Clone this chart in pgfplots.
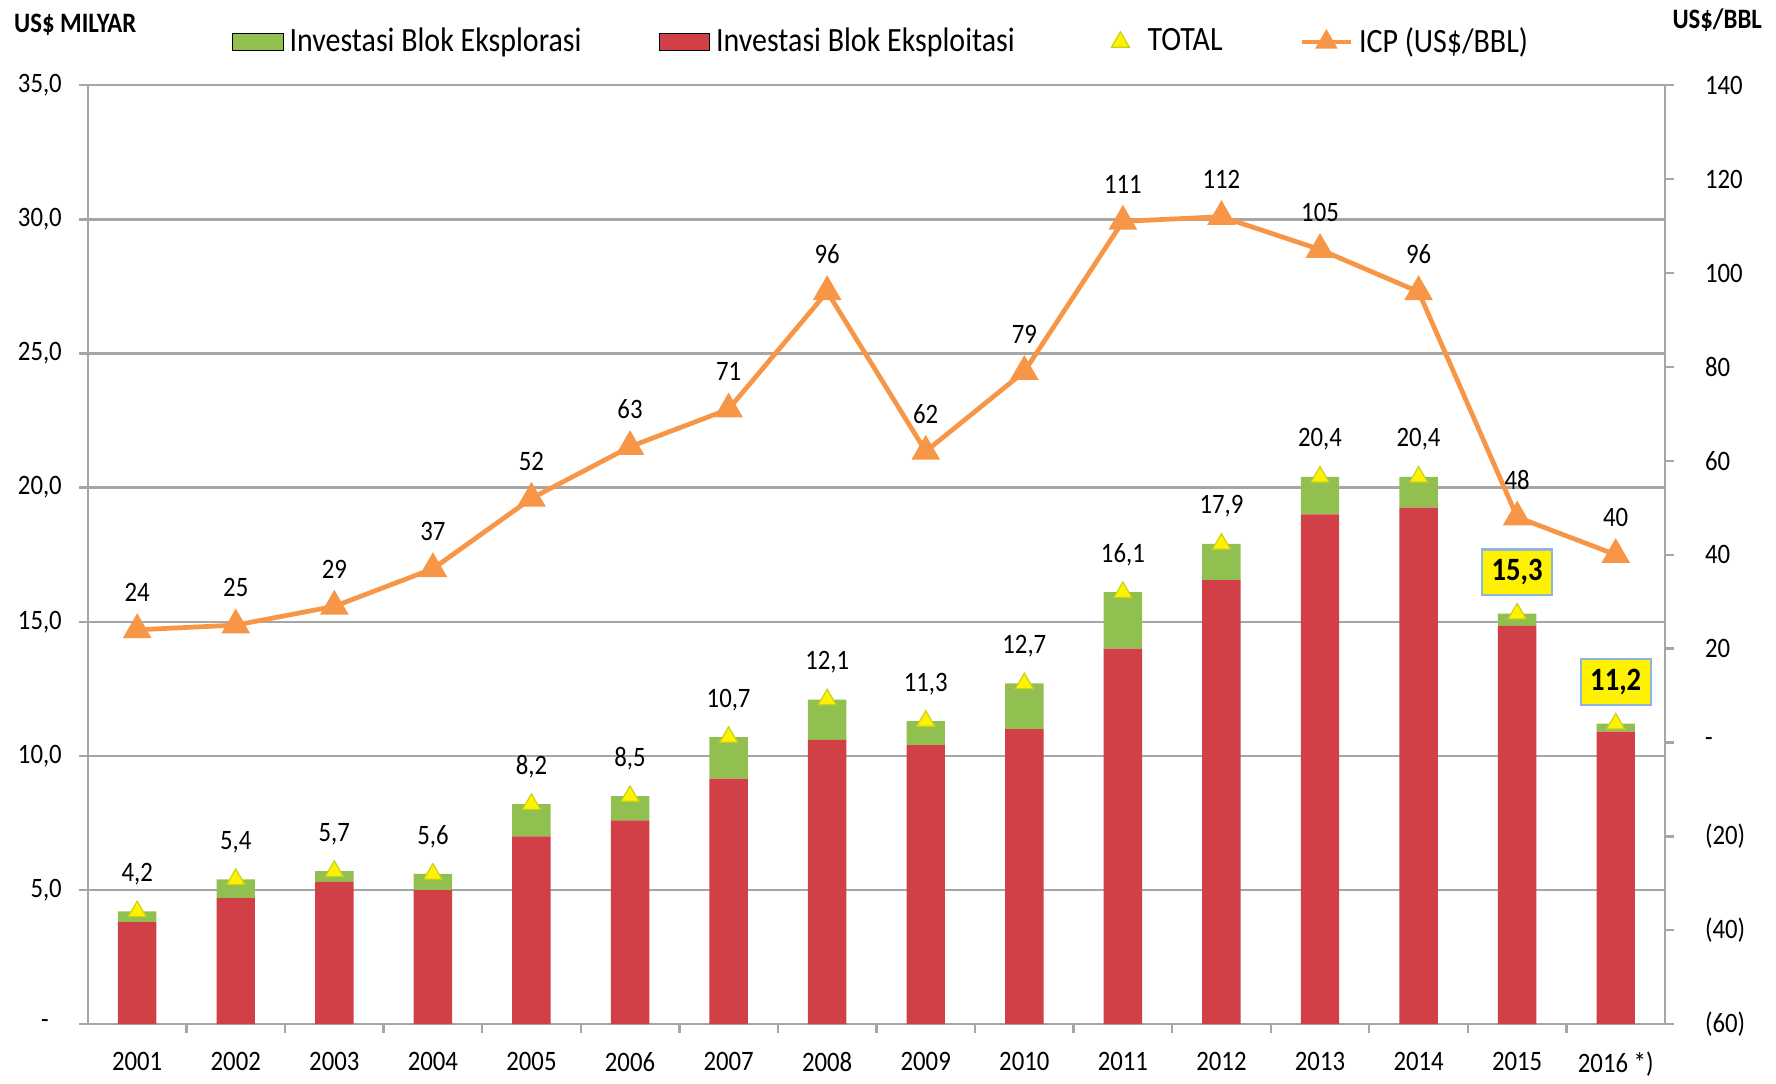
\documentclass[border=0pt]{standalone}
\usepackage{pgfplots}
\pgfplotsset{compat=1.18}
\usepackage{pgfplotstable}
\usepackage{fontspec}
\setmainfont{Carlito}[FakeStretch=0.88]
\definecolor{exred}{HTML}{D13F47}
\definecolor{exgreen}{HTML}{92C050}
\definecolor{icporange}{HTML}{F79646}
\definecolor{gridgray}{HTML}{A6A6A6}
\definecolor{boxblue}{HTML}{8DB4E2}
\definecolor{triedge}{HTML}{C9D21A}

\pgfplotstableread{
x red green total lab
0 3.8 0.4 4.2 4,2
1 4.7 0.7 5.4 5,4
2 5.3 0.4 5.7 5,7
3 5.0 0.6 5.6 5,6
4 7.0 1.2 8.2 8,2
5 7.6 0.9 8.5 8,5
6 9.15 1.55 10.7 10,7
7 10.6 1.5 12.1 12,1
8 10.4 0.9 11.3 11,3
9 11.0 1.7 12.7 12,7
10 14.0 2.1 16.1 16,1
11 16.55 1.35 17.9 17,9
12 19.0 1.4 20.4 20,4
13 19.25 1.15 20.4 20,4
14 14.85 0.45 15.3 15,3
15 10.9 0.3 11.2 11,2
}\inv

\pgfplotstableread{
x icp
0 24
1 25
2 29
3 37
4 52
5 63
6 71
7 96
8 62
9 79
10 111
11 112
12 105
13 96
14 48
15 40
}\icp

\pgfplotsset{
  base/.style={
    width=532.8pt, height=317.2pt, scale only axis,
    xmin=-0.5, xmax=15.5,
    at={(0pt,0pt)}, anchor=south west,
    font=\fontsize{9.5}{11}\selectfont,
    /pgf/number format/assume math mode=true,
  },
  totlegend/.style={legend image code/.code={\path (0pt,0pt) (16.5pt,0pt); \draw[##1] plot coordinates {(9.5pt,0pt)};}},
  icplegend/.style={legend image code/.code={\draw[icporange, line width=1.6pt] (0pt,0pt) -- (16.5pt,0pt); \fill[icporange] (8.25pt,0pt) +(90:4pt) -- +(210:4pt) -- +(330:4pt) -- cycle;}},
}

\begin{document}
\begin{tikzpicture}
\useasboundingbox (-29.7pt,-19.9pt) rectangle (570.3pt,346pt);

% bars + left axis
\begin{axis}[base,
  ymin=0, ymax=35,
  ybar stacked, bar width=0.39,
  axis x line*=bottom, axis y line*=left,
  axis line style={gridgray, line width=0.8pt},
  ytick={0,5,...,35},
  yticklabels={{-\rule{4.4pt}{0pt}},{5,0},{10,0},{15,0},{20,0},{25,0},{30,0},{35,0}},
  yticklabel style={xshift=-2.3pt},
  ymajorgrids, grid style={gridgray, line width=0.8pt},
  xtick={0,...,15},
  xticklabels={2001,2002,2003,2004,2005,2006,2007,2008,2009,2010,2011,2012,2013,2014,2015,{2016 *)}},
  xticklabel style={yshift=-3pt},
  minor xtick={0.5,1.5,...,14.5},
  tick align=outside,
  major tick length=3pt, minor tick length=3pt,
  major x tick style={draw=none},
  tick style={gridgray, line width=0.8pt},
  minor tick style={gridgray, line width=0.8pt},
  legend columns=4,
  legend style={draw=none, fill=none, inner sep=0pt,
    at={(0.091,1.046)}, anchor=west,
    font=\fontsize{11.5}{13}\selectfont,
    /tikz/every even column/.append style={column sep=24pt}},
]
\addlegendimage{area legend, fill=exgreen, draw=none}
\addlegendentry{Investasi Blok Eksplorasi}
\addlegendimage{area legend, fill=exred, draw=none}
\addlegendentry{Investasi Blok Eksploitasi}
\addlegendimage{only marks, mark=triangle*, mark size=3.5pt,
  mark options={fill=yellow, draw=triedge, line width=0.4pt}, totlegend}
\addlegendentry{TOTAL}
\addlegendimage{icplegend}
\addlegendentry{ICP (US\$/BBL)}
\addplot[fill=exred, draw=none] table[x=x, y=red]{\inv};
\addplot[fill=exgreen, draw=none] table[x=x, y=green]{\inv};
\end{axis}

% totals
\begin{axis}[base, ymin=0, ymax=35, hide axis, clip=false]
\addplot[only marks, mark=triangle*, mark size=3.5pt,
  mark options={fill=yellow, draw=triedge, line width=0.4pt},
  restrict x to domain=0:13,
  nodes near coords, point meta=explicit symbolic,
  nodes near coords style={anchor=center, yshift=12.6pt, text=black, font=\fontsize{9.5}{11}\selectfont}]
  table[x=x, y=total, meta=lab]{\inv};
\addplot[only marks, mark=triangle*, mark size=3.5pt,
  mark options={fill=yellow, draw=triedge, line width=0.4pt},
  restrict x to domain=14:15,
  nodes near coords, point meta=explicit symbolic,
  nodes near coords style={anchor=center, yshift=14pt, text=black,
    fill=yellow, draw=boxblue, line width=0.7pt,
    minimum width=23.6pt, minimum height=15.4pt, inner sep=1pt,
    font=\fontsize{11}{12}\selectfont\bfseries}]
  table[x=x, y=total, meta=lab]{\inv};
\end{axis}

% ICP + right axis
\begin{axis}[base, ymin=-60, ymax=140, clip=false,
  axis x line=none, axis y line*=right,
  axis line style={gridgray, line width=0.8pt},
  ytick={-60,-40,...,140},
  yticklabels={(60),(40),(20),-,20,40,60,80,100,120,140},
  yticklabel style={anchor=west, xshift=7pt},
  tick align=outside, major tick length=3pt,
  tick style={gridgray, line width=0.8pt},
]
\addplot[icporange, line width=1.6pt, mark=triangle*, mark size=4pt,
  mark options={fill=icporange, draw=icporange},
  nodes near coords, point meta=explicit symbolic,
  nodes near coords style={anchor=center, yshift=12.6pt, text=black, font=\fontsize{9.5}{11}\selectfont}]
  table[x=x, y=icp, meta=icp]{\icp};
\end{axis}

\node[anchor=west, font=\fontsize{9.5}{11}\selectfont\bfseries, inner sep=0pt] at (-25.1pt,337.6pt) {US\$ MILYAR};
\node[anchor=east, font=\fontsize{9.5}{11}\selectfont\bfseries, inner sep=0pt] at (565.7pt,339.1pt) {US\$/BBL};
\end{tikzpicture}
\end{document}
